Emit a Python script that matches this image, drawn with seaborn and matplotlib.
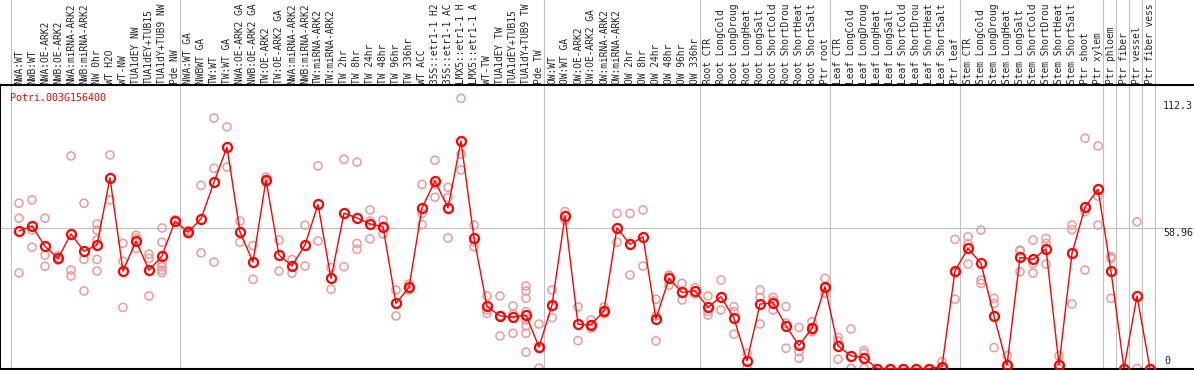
import numpy as np
import pandas as pd
import matplotlib
matplotlib.use("Agg")
import matplotlib.pyplot as plt
import seaborn as sns

# ---- data ----
gene_id = "Potri.003G156400"

# header labels, as far as the reference shows them (clipped at 14 chars)
labels = [
    "NWA:WT", "NWB:WT", "NWA:OE-ARK2", "NWB:OE-ARK2", "NWA:miRNA-ARK2",
    "NWB:miRNA-ARK2", "NW 0hr", "WT H2O", "WT-NW", "TUA1dEY NW",
    "TUA1dEY+TUB15", "TUA1dY+TUB9 NW", "Pde NW",
    "NWA:WT GA", "NWBWT GA", "TW:WT", "TW:WT GA", "NWA:OE-ARK2 GA",
    "NWB:OE-ARK2 GA", "TW:OE-ARK2", "TW:OE-ARK2 GA", "NWA:miRNA-ARK2",
    "NWB:miRNA-ARK2", "TW:miRNA-ARK2", "TW:miRNA-ARK2", "TW 2hr", "TW 8hr",
    "TW 24hr", "TW 48hr", "TW 96hr", "TW 336hr", "WT ACC", "35S::etr1-1 H2",
    "35S::etr1-1 AC", "LMX5::etr1-1 H", "LMX5::etr1-1 A", "WT-TW",
    "TUA1dEY TW", "TUA1dEY+TUB15", "TUA1dY+TUB9 TW", "Pde TW",
    "OW:WT", "OW:WT GA", "OW:OE-ARK2", "OW:OE-ARK2 GA", "OW:miRNA-ARK2",
    "OW:miRNA-ARK2", "OW 2hr", "OW 8hr", "OW 24hr", "OW 48hr", "OW 96hr",
    "OW 336hr",
    "Root CTR", "Root LongCold", "Root LongDroug", "Root LongHeat",
    "Root LongSalt", "Root ShortCold", "Root ShortDrou", "Root ShortHeat",
    "Root ShortSalt", "Ptr root",
    "Leaf CTR", "Leaf LongCold", "Leaf LongDroug", "Leaf LongHeat",
    "Leaf LongSalt", "Leaf ShortCold", "Leaf ShortDrou", "Leaf ShortHeat",
    "Leaf ShortSalt", "Ptr leaf",
    "Stem CTR", "Stem LongCold", "Stem LongDroug", "Stem LongHeat",
    "Stem LongSalt", "Stem ShortCold", "Stem ShortDrou", "Stem ShortHeat",
    "Stem ShortSalt", "Ptr shoot", "Ptr xylem",
    "Ptr phloem", "Ptr fiber", "Ptr vessel", "Ptr fiber vess",
]

group_sizes = [13, 28, 12, 10, 10, 11, 1, 1, 1, 1]

means = [
    57.8, 59.9, 51.4, 46.3, 56.6, 49.3, 51.9, 80.2, 40.9, 53.6,
    41.3, 47.3, 62.0, 57.3, 62.9, 78.3, 93.1, 57.4, 44.8, 79.3,
    47.7, 43.1, 51.9, 69.0, 37.9, 65.3, 63.3, 60.8, 59.6, 27.4,
    34.1, 67.5, 78.8, 67.5, 95.7, 54.9, 26.1, 22.1, 21.7, 22.4,
    9.0, 26.7, 64.1, 18.6, 18.3, 24.3, 59.2, 52.2, 55.4, 20.8,
    37.9, 32.0, 32.6, 25.7, 30.2, 21.1, 3.2, 27.1, 27.7, 17.9,
    9.7, 16.9, 34.4, 9.5, 5.3, 4.6, 0, 0, 0, 0,
    0, 0.8, 41.1, 50.5, 44.2, 22.1, 1.5, 46.7, 45.9, 50.3,
    1.5, 48.4, 67.8, 75.4, 41.0, 0, 30.5, 0,
]

replicates = [
    [69.5, 63.2, 40.2], [70.9, 58.2, 51.0], [63.2, 47.7, 43.0], [47.5, 45.8, 45.6],
    [89.4, 41.4, 38.9], [69.5, 45.9, 32.6], [60.8, 58.2, 54.0, 45.9, 41.0],
    [89.8, 70.9], [52.6, 45.1, 25.7], [56.0, 54.7, 50.5], [48.1, 46.3, 30.5],
    [59.1, 53.1, 44.2, 42.8, 41.4, 40.3], [62.5, 61.5],
    [58.0, 56.6], [77.0, 48.6], [105.3, 84.2, 44.7], [101.6, 84.7], [62.0, 53.1],
    [51.7, 37.5], [80.5, 79.0, 78.3], [54.0, 41.0], [45.8, 40.1], [60.3, 43.1],
    [85.2, 53.6], [42.4, 33.3], [88.0, 42.8], [86.8, 52.6, 50.1],
    [66.7, 62.0, 54.5], [62.4, 59.8, 56.6], [33.0, 22.1], [35.5, 34.0, 33.0],
    [77.4, 65.2, 60.5], [87.6, 77.4, 72.0], [76.2, 71.9, 54.9],
    [113.6, 90.1, 83.5], [60.3, 53.3, 51.2], [30.5, 24.6, 23.2],
    [30.5, 22.1, 13.7], [26.3, 22.9, 14.8],
    [34.7, 32.6, 29.5, 23.9, 20.4, 17.9, 14.8, 6.9], [18.7, 8.3, 0.1],
    [33.0, 25.9, 21.4], [66.0, 62.4], [25.9, 11.7], [20.4, 18.3, 16.9],
    [25.9, 24.3, 23.0], [65.2, 53.1], [65.2, 39.3], [66.7, 43.1],
    [29.1, 22.1, 11.6], [39.3, 39.0, 35.0], [35.8, 28.8], [34.0, 31.3],
    [30.5, 24.0, 22.5], [37.2, 24.6], [26.0, 23.9, 14.4], [6.4, 0.1],
    [33.0, 29.9, 18.7], [29.9, 28.5, 24.6], [26.0, 19.0, 8.5], [17.3, 7.1, 4.3],
    [19.7, 16.0, 15.5], [37.9, 33.8, 31.6],
    [13.1, 11.5, 3.9], [16.6, 0, 0], [7.5, 6.4, 0.1], [0], [0], [0], [0], [0],
    [2.9, 0, 0], [54.3, 40.3, 29.1],
    [55.4, 52.4, 43.9], [58.2, 37.2, 35.8], [29.5, 27.4, 8.8], [5.4, 0, 0],
    [49.8, 49.4, 40.7], [54.0, 44.2, 40.1], [54.7, 52.6, 43.9], [5.3, 0, 0],
    [60.3, 58.4, 27.1], [96.8, 66.0, 41.4], [93.6, 72.5, 60.3],
    [47.0, 46.3, 29.5], [0], [61.7, 0], [0],
]

y_marks = [112.3, 58.96]
grid_value = 58.96

# ---- style ----
sns.set_style("white")
plt.rcParams["font.family"] = ["DejaVu Sans Mono", "DejaVu Sans"]
FS = 7.2
FS_HEAD = 6.9

W, H = 1194, 370
TOP_PX, BOT_PX = 85, 1.5
STEP, X0 = 13.0, 19.0        # px per category, px of first category
PX_PER_UNIT = 2.378
axes_h = H - TOP_PX - BOT_PX

fig = plt.figure(figsize=(W / 100, H / 100), dpi=100)
ax = fig.add_axes([0, BOT_PX / H, 1, axes_h / H])

x_idx = np.arange(len(labels))
rep_df = pd.DataFrame({
    "idx": np.repeat(x_idx, [len(r) for r in replicates]),
    "value": np.concatenate(replicates),
})

# group separators, running through the header too
bounds = np.concatenate([[0], np.cumsum(group_sizes)]) - 0.6
for b in bounds:
    ax.axvline(b, ymin=-0.01, ymax=(H - BOT_PX) / axes_h, color="#c0c0c0",
               lw=0.8, clip_on=False, zorder=0)
ax.axhline(grid_value, color="#c0c0c0", lw=0.8, zorder=0)

sns.scatterplot(data=rep_df, x="idx", y="value", ax=ax, marker="o", s=34,
                facecolors="none", edgecolors="#ee9a9a", linewidths=1.1,
                clip_on=False, zorder=2, legend=False)
sns.lineplot(x=x_idx, y=means, ax=ax, estimator=None, sort=False,
             color="red", lw=1.0, marker="o", ms=6.5, mfc="none",
             mec="red", mew=1.6, clip_on=False, zorder=3)

ax.set_xlim(-X0 / STEP, (W - X0) / STEP)
ax.set_ylim(0, axes_h / PX_PER_UNIT)

# category labels in the header
ax.xaxis.tick_top()
ax.set_xticks(x_idx)
ax.set_xticklabels(labels, rotation=90, fontsize=FS_HEAD, va="bottom", ha="center")
ax.tick_params(axis="x", length=0, pad=1.0)
ax.set_yticks([])
ax.set_xlabel("")
ax.set_ylabel("")

for side in ["top", "left", "bottom"]:
    ax.spines[side].set_color("black")
    ax.spines[side].set_linewidth(1.5)
ax.spines["right"].set_visible(False)

# scale labels on the right
x_lab = (1163 - X0) / STEP
for v in y_marks:
    ax.text(x_lab, v, f"{v:g}", va="top", ha="left", fontsize=FS)
ax.text(x_lab + 0.1, 1.2, "0", va="bottom", ha="left", fontsize=FS)

ax.text(10 / W, 1 - 8 / axes_h, gene_id, transform=ax.transAxes,
        color="red", va="top", ha="left", fontsize=FS)

fig.savefig("out.png", dpi=100)
